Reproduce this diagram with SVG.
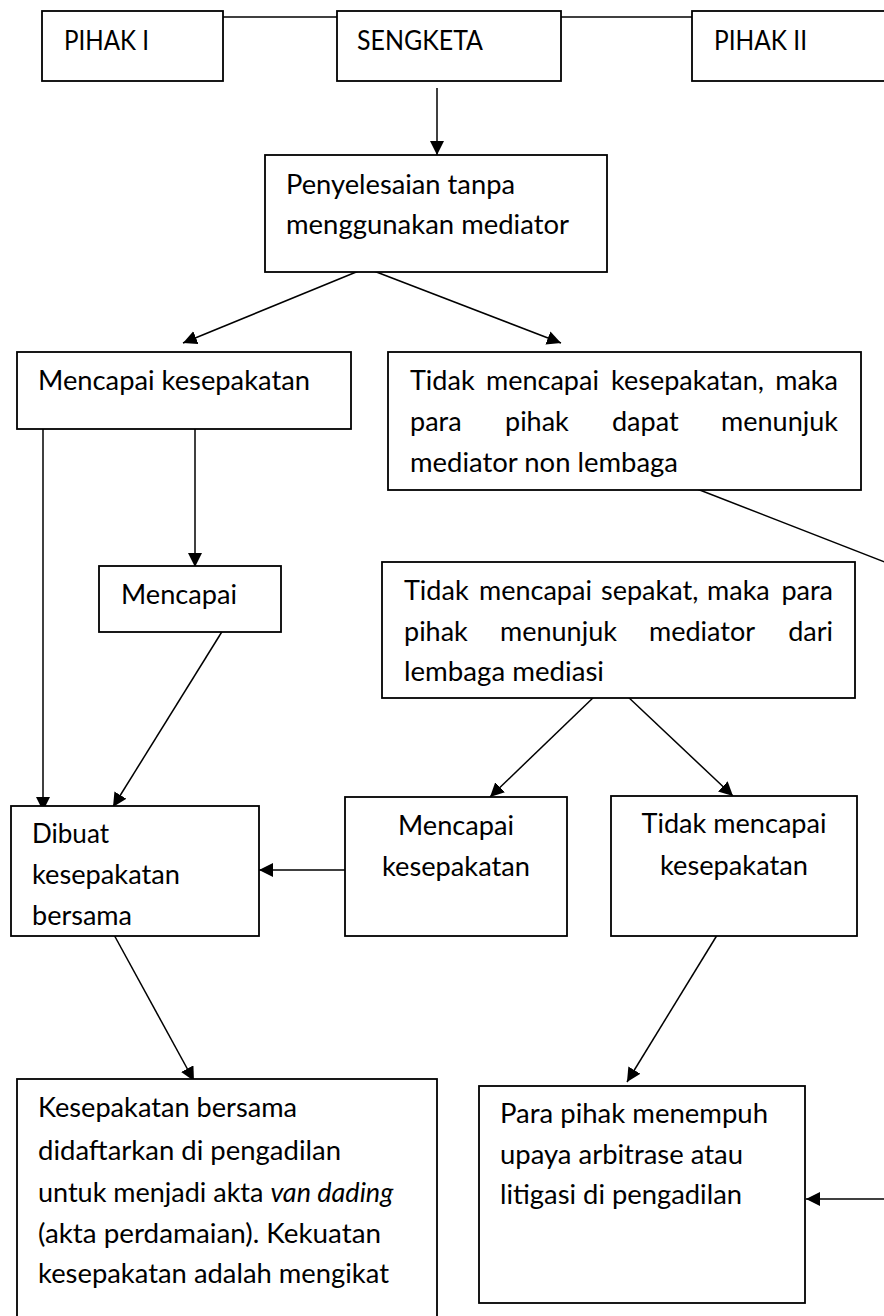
<svg xmlns="http://www.w3.org/2000/svg" width="884" height="1316" viewBox="0 0 884 1316">
<style>
.box{fill:#fff;stroke:#000;stroke-width:1.8}
.t{font-family:Lato,"Liberation Sans",sans-serif;font-size:27px;fill:#000}
.c{fill:none;stroke:#000;stroke-width:1.5}
</style>
<defs>
<marker id="ah" markerWidth="15" markerHeight="15" refX="14" refY="7" orient="auto" markerUnits="userSpaceOnUse"><path d="M0,0 L14,7 L0,14 Z" fill="#000"/></marker>
<clipPath id="clipD"><rect x="11" y="806" width="248" height="119"/></clipPath>
</defs>
<g id="connectors">
<line class="c" x1="223" y1="17" x2="337" y2="17"/>
<line class="c" x1="561" y1="17" x2="692" y2="17"/>
<line class="c" x1="437" y1="88" x2="437" y2="155" marker-end="url(#ah)"/>
<line class="c" x1="366" y1="268" x2="183" y2="343" marker-end="url(#ah)"/>
<line class="c" x1="366" y1="268" x2="561" y2="343" marker-end="url(#ah)"/>
<line class="c" x1="692" y1="487" x2="900" y2="568"/>
<line class="c" x1="43" y1="429" x2="43" y2="811" marker-end="url(#ah)"/>
<line class="c" x1="195" y1="429" x2="195" y2="567" marker-end="url(#ah)"/>
<line class="c" x1="223" y1="630" x2="113" y2="807" marker-end="url(#ah)"/>
<line class="c" x1="596" y1="695" x2="490" y2="797" marker-end="url(#ah)"/>
<line class="c" x1="626" y1="695" x2="733" y2="796" marker-end="url(#ah)"/>
<line class="c" x1="350" y1="870" x2="259" y2="870" marker-end="url(#ah)"/>
<line class="c" x1="113" y1="933" x2="194" y2="1081" marker-end="url(#ah)"/>
<line class="c" x1="719" y1="932" x2="627" y2="1082" marker-end="url(#ah)"/>
<line class="c" x1="890" y1="1199" x2="806" y2="1199" marker-end="url(#ah)"/>
</g>
<g id="pihak1">
<rect class="box" x="42" y="11" width="181" height="70"/>
<text class="t" x="64" y="50" textLength="85" lengthAdjust="spacingAndGlyphs">PIHAK I</text>
</g>
<g id="sengketa">
<rect class="box" x="337" y="11" width="224" height="70"/>
<text class="t" x="357" y="50" textLength="126" lengthAdjust="spacingAndGlyphs">SENGKETA</text>
</g>
<g id="pihak2">
<rect class="box" x="692" y="11" width="220" height="70"/>
<text class="t" x="714" y="50" textLength="93" lengthAdjust="spacingAndGlyphs">PIHAK II</text>
</g>
<g id="penyelesaian">
<rect class="box" x="265" y="155" width="342" height="117"/>
<text class="t" x="286" y="194" textLength="229" lengthAdjust="spacingAndGlyphs">Penyelesaian tanpa</text>
<text class="t" x="286" y="234" textLength="283" lengthAdjust="spacingAndGlyphs">menggunakan mediator</text>
</g>
<g id="mencapai-kesepakatan">
<rect class="box" x="17" y="352" width="334" height="77"/>
<text class="t" x="38" y="390" textLength="272" lengthAdjust="spacingAndGlyphs">Mencapai kesepakatan</text>
</g>
<g id="tidak-non-lembaga">
<rect class="box" x="388" y="352" width="473" height="138"/>
<text class="t" x="410" y="390">Tidak</text>
<text class="t" x="486" y="390">mencapai</text>
<text class="t" x="611" y="390">kesepakatan,</text>
<text class="t" x="838" y="390" text-anchor="end">maka</text>
<text class="t" x="410" y="431">para</text>
<text class="t" x="505" y="431">pihak</text>
<text class="t" x="612" y="431">dapat</text>
<text class="t" x="838" y="431" text-anchor="end">menunjuk</text>
<text class="t" x="410" y="472" textLength="268" lengthAdjust="spacingAndGlyphs">mediator non lembaga</text>
</g>
<g id="mencapai">
<rect class="box" x="99" y="566" width="182" height="66"/>
<text class="t" x="121" y="604" textLength="116" lengthAdjust="spacingAndGlyphs">Mencapai</text>
</g>
<g id="tidak-lembaga">
<rect class="box" x="382" y="562" width="473" height="136"/>
<text class="t" x="404" y="600">Tidak</text>
<text class="t" x="479" y="600">mencapai</text>
<text class="t" x="601" y="600">sepakat,</text>
<text class="t" x="707" y="600">maka</text>
<text class="t" x="833" y="600" text-anchor="end">para</text>
<text class="t" x="404" y="641">pihak</text>
<text class="t" x="500" y="641">menunjuk</text>
<text class="t" x="649" y="641">mediator</text>
<text class="t" x="833" y="641" text-anchor="end">dari</text>
<text class="t" x="404" y="681" textLength="200" lengthAdjust="spacingAndGlyphs">lembaga mediasi</text>
</g>
<g id="dibuat">
<rect class="box" x="11" y="806" width="248" height="130"/>
<g clip-path="url(#clipD)">
<text class="t" x="32" y="843" textLength="77" lengthAdjust="spacingAndGlyphs">Dibuat</text>
<text class="t" x="32" y="884" textLength="148" lengthAdjust="spacingAndGlyphs">kesepakatan</text>
<text class="t" x="32" y="925" textLength="100" lengthAdjust="spacingAndGlyphs">bersama</text>
</g>
</g>
<g id="mencapai-kesepakatan-2">
<rect class="box" x="345" y="797" width="222" height="139"/>
<text class="t" x="456" y="835" text-anchor="middle" textLength="116" lengthAdjust="spacingAndGlyphs">Mencapai</text>
<text class="t" x="456" y="876" text-anchor="middle" textLength="148" lengthAdjust="spacingAndGlyphs">kesepakatan</text>
</g>
<g id="tidak-mencapai-kesepakatan">
<rect class="box" x="611" y="796" width="246" height="140"/>
<text class="t" x="734" y="833" text-anchor="middle" textLength="185" lengthAdjust="spacingAndGlyphs">Tidak mencapai</text>
<text class="t" x="734" y="875" text-anchor="middle" textLength="148" lengthAdjust="spacingAndGlyphs">kesepakatan</text>
</g>
<g id="kesepakatan-bersama">
<rect class="box" x="17" y="1079" width="420" height="260"/>
<text class="t" x="38" y="1117" textLength="259" lengthAdjust="spacingAndGlyphs">Kesepakatan bersama</text>
<text class="t" x="38" y="1160" textLength="303" lengthAdjust="spacingAndGlyphs">didaftarkan di pengadilan</text>
<text class="t" x="38" y="1202">untuk menjadi akta <tspan font-style="italic">van dading</tspan></text>
<text class="t" x="38" y="1243" textLength="343" lengthAdjust="spacingAndGlyphs">(akta perdamaian). Kekuatan</text>
<text class="t" x="38" y="1283" textLength="351" lengthAdjust="spacingAndGlyphs">kesepakatan adalah mengikat</text>
</g>
<g id="para-pihak">
<rect class="box" x="479" y="1086" width="326" height="217"/>
<text class="t" x="500" y="1123" textLength="268" lengthAdjust="spacingAndGlyphs">Para pihak menempuh</text>
<text class="t" x="500" y="1164" textLength="243" lengthAdjust="spacingAndGlyphs">upaya arbitrase atau</text>
<text class="t" x="500" y="1204" textLength="242" lengthAdjust="spacingAndGlyphs">litigasi di pengadilan</text>
</g>
</svg>
